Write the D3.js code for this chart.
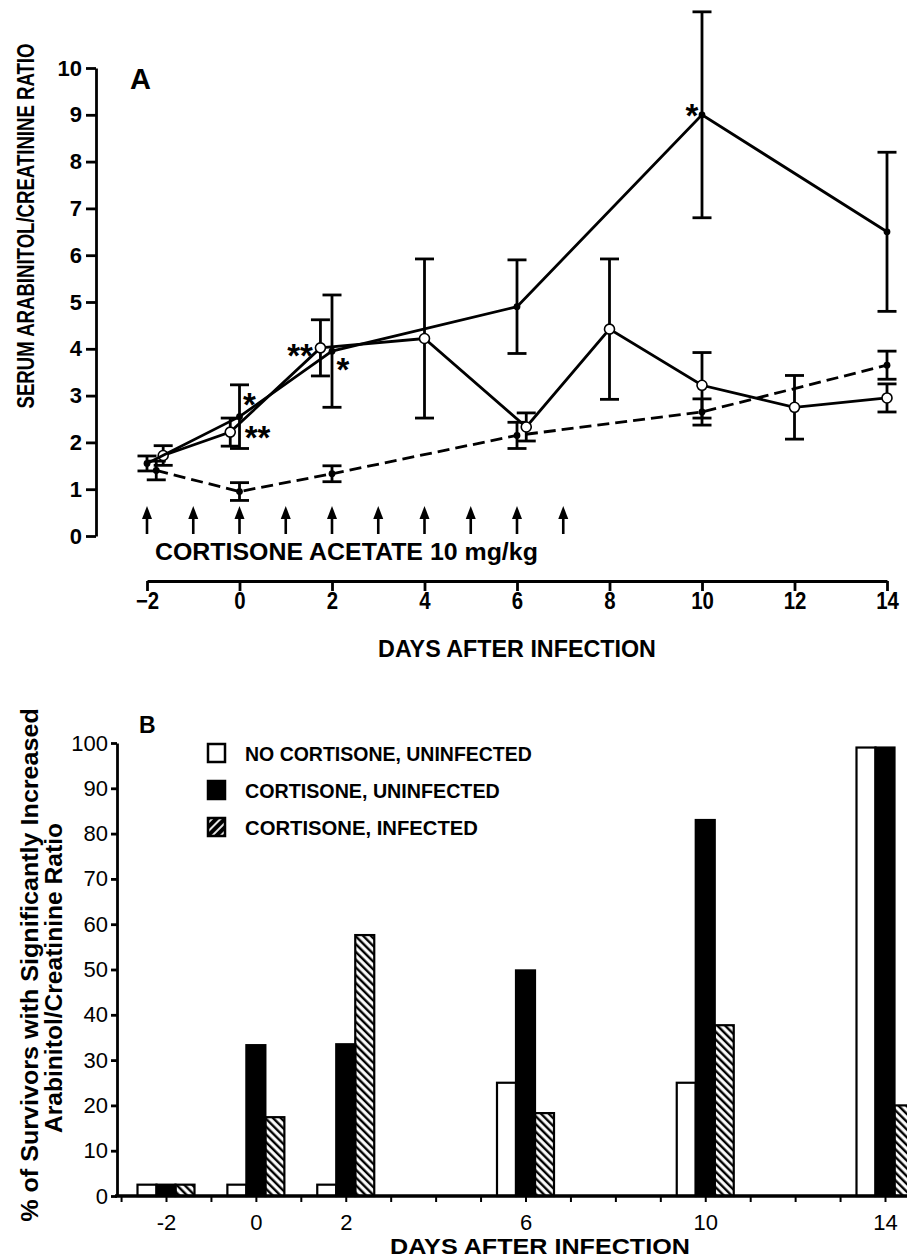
<!DOCTYPE html>
<html>
<head>
<meta charset="utf-8">
<script src="https://cdnjs.cloudflare.com/ajax/libs/d3/7.8.5/d3.min.js"></script>
<style>
	body{margin:0;background:#fff;}
	svg{display:block;font-family:"Liberation Sans",Arial,Helvetica,sans-serif;}
</style>
</head>
<body>
<div id="chart"></div>
<script>
// ---- panel A : serum arabinitol/creatinine ratio ----
const filledDays = [-2, 0, 2, 6, 10, 14];
const filledMean = [1.55, 2.55, 3.95, 4.9, 9.0, 6.5];
const filledErr  = [0.16, 0.68, 1.2, 1.0, 2.2, 1.7];

const openDays = [-1.65, -0.2, 1.75, 4, 6.2, 8, 10, 12, 14];
const openMean = [1.72, 2.22, 4.02, 4.22, 2.33, 4.42, 3.22, 2.75, 2.95];
const openErr  = [0.21, 0.3, 0.6, 1.7, 0.3, 1.5, 0.7, 0.68, 0.3];

const dashedDays = [-1.8, 0, 2, 6, 10, 14];
const dashedMean = [1.4, 0.95, 1.33, 2.15, 2.65, 3.65];
const dashedErr  = [0.2, 0.19, 0.17, 0.28, 0.28, 0.3];

const doseDays = [-2, -1, 0, 1, 2, 3, 4, 5, 6, 7];
const ticksA_x = [-2, 0, 2, 4, 6, 8, 10, 12, 14];
const ticksA_y = [0, 1, 2, 3, 4, 5, 6, 7, 8, 9, 10];

// significance marks: anchored on a day/value
const starDays  = [10, 0, 0, 2, 2];
const starVals  = [9.0, 2.55, 2.55, 4.02, 3.95];
const starTexts = ["*", "*", "**", "**", "*"];

// ---- panel B : % of survivors ----
const groupsB = ["NO CORTISONE, UNINFECTED", "CORTISONE, UNINFECTED", "CORTISONE, INFECTED"];
const daysB = [-2, 0, 2, 6, 10, 14];
const noCortUninf = [2.5, 2.5, 2.5, 25, 25, 99];
const cortUninf   = [2.5, 33.3, 33.5, 49.8, 83, 99];
const cortInf     = [2.5, 17.4, 57.6, 18.3, 37.7, 20];
const ticksB_x = [-3, -2, -1, 0, 1, 2, 3, 4, 5, 6, 7, 8, 9, 10, 11, 12, 13, 14, 15];
const labelsB_x = [-2, 0, 2, 6, 10, 14];
const ticksB_y = [0, 10, 20, 30, 40, 50, 60, 70, 80, 90, 100];

const svg = d3.select("#chart").append("svg")
	.attr("width", 907)
	.attr("height", 1260);

const defs = svg.append("defs");
defs.append("pattern")
	.attr("id", "hatch")
	.attr("patternUnits", "userSpaceOnUse")
	.attr("width", 5.5).attr("height", 5.5)
	.attr("patternTransform", "rotate(-45)")
	.append("line")
		.attr("x1", 2).attr("y1", 0).attr("x2", 2).attr("y2", 5.5)
		.attr("stroke", "#000").attr("stroke-width", 2.4);
const hatchInv = defs.append("pattern")
	.attr("id", "hatchInv")
	.attr("patternUnits", "userSpaceOnUse")
	.attr("width", 6).attr("height", 6)
	.attr("patternTransform", "rotate(45)");
hatchInv.append("rect").attr("width", 6).attr("height", 6).attr("fill", "#000");
hatchInv.append("line")
	.attr("x1", 3).attr("y1", 0).attr("x2", 3).attr("y2", 6)
	.attr("stroke", "#fff").attr("stroke-width", 1.8);

/**
* Put a bold text at (x, y), optionally rotated, scaled horizontally to a given length
*/
function fitText(g, str, x, y, size, len, anchor, rot){
	let t = g.append("text")
		.attr("text-anchor", anchor)
		.attr("font-size", size)
		.attr("font-weight", "bold")
		.text(str);
	let s = len / t.node().getComputedTextLength();
	t.attr("transform", "translate(" + x + "," + y + ")" + (rot ? " rotate(" + rot + ")" : "") + " scale(" + s + ",1)");
	return t;
}

class LinePanel{
	constructor(svg){
		this.svg = svg;
		this.x = d3.scaleLinear().domain([-2, 14]).range([147, 887]);
		this.y = d3.scaleLinear().domain([0, 10]).range([536, 68]);
		this.g = svg.append("g");
		this.axes();
		this.series(dashedDays, dashedMean, dashedErr, "12,6", "filled");
		this.series(openDays, openMean, openErr, null, "open");
		this.series(filledDays, filledMean, filledErr, null, "filled");
		this.arrows();
		this.stars();
	}

	axes(){
		let yAxis = this.g.append("g")
			.attr("transform", "translate(96,0)")
			.call(d3.axisLeft(this.y).tickValues(ticksA_y).tickSize(10).tickSizeOuter(0).tickPadding(4));
		yAxis.selectAll("path, line").attr("stroke", "#000").attr("stroke-width", 2.8);
		yAxis.selectAll("text").attr("font-size", 22).attr("font-weight", "bold").attr("fill", "#000");

		let xAxis = this.g.append("g")
			.attr("transform", "translate(0,581)")
			.call(d3.axisBottom(this.x).tickValues(ticksA_x).tickSize(10).tickSizeOuter(0).tickPadding(1)
				.tickFormat(d => d < 0 ? "\u2212" + (-d) : d));
		xAxis.selectAll("path, line").attr("stroke", "#000").attr("stroke-width", 2.8);
		xAxis.selectAll(".tick text").attr("font-size", 24).attr("font-weight", "bold").attr("fill", "#000")
			.attr("transform", "scale(0.85,1)");

		fitText(this.g, "SERUM ARABINITOL/CREATININE RATIO", 34, 226, 23, 365, "middle", -90);
		fitText(this.g, "DAYS AFTER INFECTION", 517, 657, 23, 278, "middle");
		fitText(this.g, "CORTISONE ACETATE 10 mg/kg", 155, 560, 24, 383, "start");

		this.g.append("text")
			.attr("x", 130).attr("y", 89)
			.attr("font-size", 29).attr("font-weight", "bold")
			.text("A");
	}

	series(days, mean, err, dash, marker){
		let data = days.map((d, i) => ({day: d, v: mean[i], e: err[i]}));
		let bars = this.g.append("g").attr("stroke", "#000").attr("stroke-width", 2.8);
		data.forEach(d => {
			let cx = this.x(d.day);
			bars.append("line").attr("x1", cx).attr("x2", cx)
				.attr("y1", this.y(d.v - d.e)).attr("y2", this.y(d.v + d.e));
			[d.v - d.e, d.v + d.e].forEach(v => {
				bars.append("line").attr("x1", cx - 9.5).attr("x2", cx + 9.5)
					.attr("y1", this.y(v)).attr("y2", this.y(v));
			});
		});

		let line = d3.line().x(d => this.x(d.day)).y(d => this.y(d.v));
		this.g.append("path")
			.datum(data)
			.attr("d", line)
			.attr("fill", "none")
			.attr("stroke", "#000")
			.attr("stroke-width", 2.8)
			.attr("stroke-dasharray", dash);

		this.g.selectAll(null)
			.data(data)
			.enter().append("circle")
				.attr("cx", d => this.x(d.day))
				.attr("cy", d => this.y(d.v))
				.attr("r", marker == "open" ? 5 : 3.4)
				.attr("fill", marker == "open" ? "#fff" : "#000")
				.attr("stroke", "#000")
				.attr("stroke-width", marker == "open" ? 1.6 : 0);
	}

	arrows(){
		let a = this.g.append("g");
		doseDays.forEach(d => {
			let cx = this.x(d);
			a.append("line").attr("x1", cx).attr("x2", cx).attr("y1", 534).attr("y2", 516)
				.attr("stroke", "#000").attr("stroke-width", 2.6);
			a.append("path").attr("d", `M${cx},506 L${cx - 5},519 L${cx + 5},519 Z`).attr("fill", "#000");
		});
	}

	stars(){
		// pixel offsets from the anchored point to the text baseline
		let offs = [[-10, 12], [10, -1], [18, 32], [-32, 19], [11, 30]];
		starDays.forEach((d, i) => {
			this.g.append("text")
				.attr("x", this.x(d) + offs[i][0])
				.attr("y", this.y(starVals[i]) + offs[i][1])
				.attr("text-anchor", "middle")
				.attr("font-size", 33).attr("font-weight", "bold")
				.text(starTexts[i]);
		});
	}
}

class BarPanel{
	constructor(svg){
		this.svg = svg;
		this.x = d3.scaleLinear().domain([-2, 14]).range([166, 885]);
		this.y = d3.scaleLinear().domain([0, 100]).range([1196, 743]);
		this.sub = d3.scaleBand().domain(groupsB).range([-28.5, 28.5]).padding(0);
		this.fills = ["#fff", "#000", "url(#hatch)"];
		this.g = svg.append("g");
		this.bars();
		this.axes();
		this.legend();
	}

	bars(){
		let values = [noCortUninf, cortUninf, cortInf];
		groupsB.forEach((grp, k) => {
			let data = daysB.map((d, i) => ({day: d, v: values[k][i]}));
			this.g.selectAll(null)
				.data(data)
				.enter().append("rect")
					.attr("x", d => this.x(d.day) + this.sub(grp))
					.attr("y", d => this.y(d.v))
					.attr("width", this.sub.bandwidth())
					.attr("height", d => this.y(0) - this.y(d.v))
					.attr("fill", this.fills[k])
					.attr("stroke", "#000")
					.attr("stroke-width", 2.2);
		});
	}

	axes(){
		let yAxis = this.g.append("g")
			.attr("transform", "translate(117,0)")
			.call(d3.axisLeft(this.y).tickValues(ticksB_y).tickSize(6).tickSizeOuter(0).tickPadding(3));
		yAxis.selectAll("path, line").attr("stroke", "#000").attr("stroke-width", 2.8);
		yAxis.selectAll("text").attr("font-size", 22).attr("fill", "#000");

		let xAxis = this.g.append("g")
			.attr("transform", "translate(0,1196)")
			.call(d3.axisBottom(this.x).tickValues(ticksB_x).tickSize(6).tickSizeOuter(0).tickPadding(12)
				.tickFormat(d => labelsB_x.includes(d) ? d : ""));
		xAxis.select(".domain").remove();
		xAxis.selectAll("line").attr("stroke", "#000").attr("stroke-width", 2);
		xAxis.selectAll("text").attr("font-size", 22).attr("fill", "#000");

		this.g.append("line")
			.attr("x1", 115).attr("x2", 907)
			.attr("y1", this.y(0)).attr("y2", this.y(0))
			.attr("stroke", "#000").attr("stroke-width", 3.5);

		fitText(this.g, "% of Survivors with Significantly Increased", 38, 965, 23, 514, "middle", -90);
		fitText(this.g, "Arabinitol/Creatinine Ratio", 62, 978, 23, 310, "middle", -90);
		fitText(this.g, "DAYS AFTER INFECTION", 540, 1254, 22, 300, "middle");

		this.g.append("text")
			.attr("x", 139).attr("y", 733)
			.attr("font-size", 23).attr("font-weight", "bold")
			.text("B");
	}

	legend(){
		let rows = [753, 790, 827];
		let lens = [287, 255, 233];
		let boxFill = ["#fff", "#000", "url(#hatchInv)"];
		groupsB.forEach((grp, k) => {
			this.g.append("rect")
				.attr("x", 208).attr("y", rows[k] - 9)
				.attr("width", 17).attr("height", 18)
				.attr("fill", boxFill[k])
				.attr("stroke", "#000").attr("stroke-width", 2.5);
			fitText(this.g, grp, 245, rows[k] + 7.5, 20, lens[k], "start");
		});
	}
}

new LinePanel(svg);
new BarPanel(svg);
</script>
</body>
</html>
